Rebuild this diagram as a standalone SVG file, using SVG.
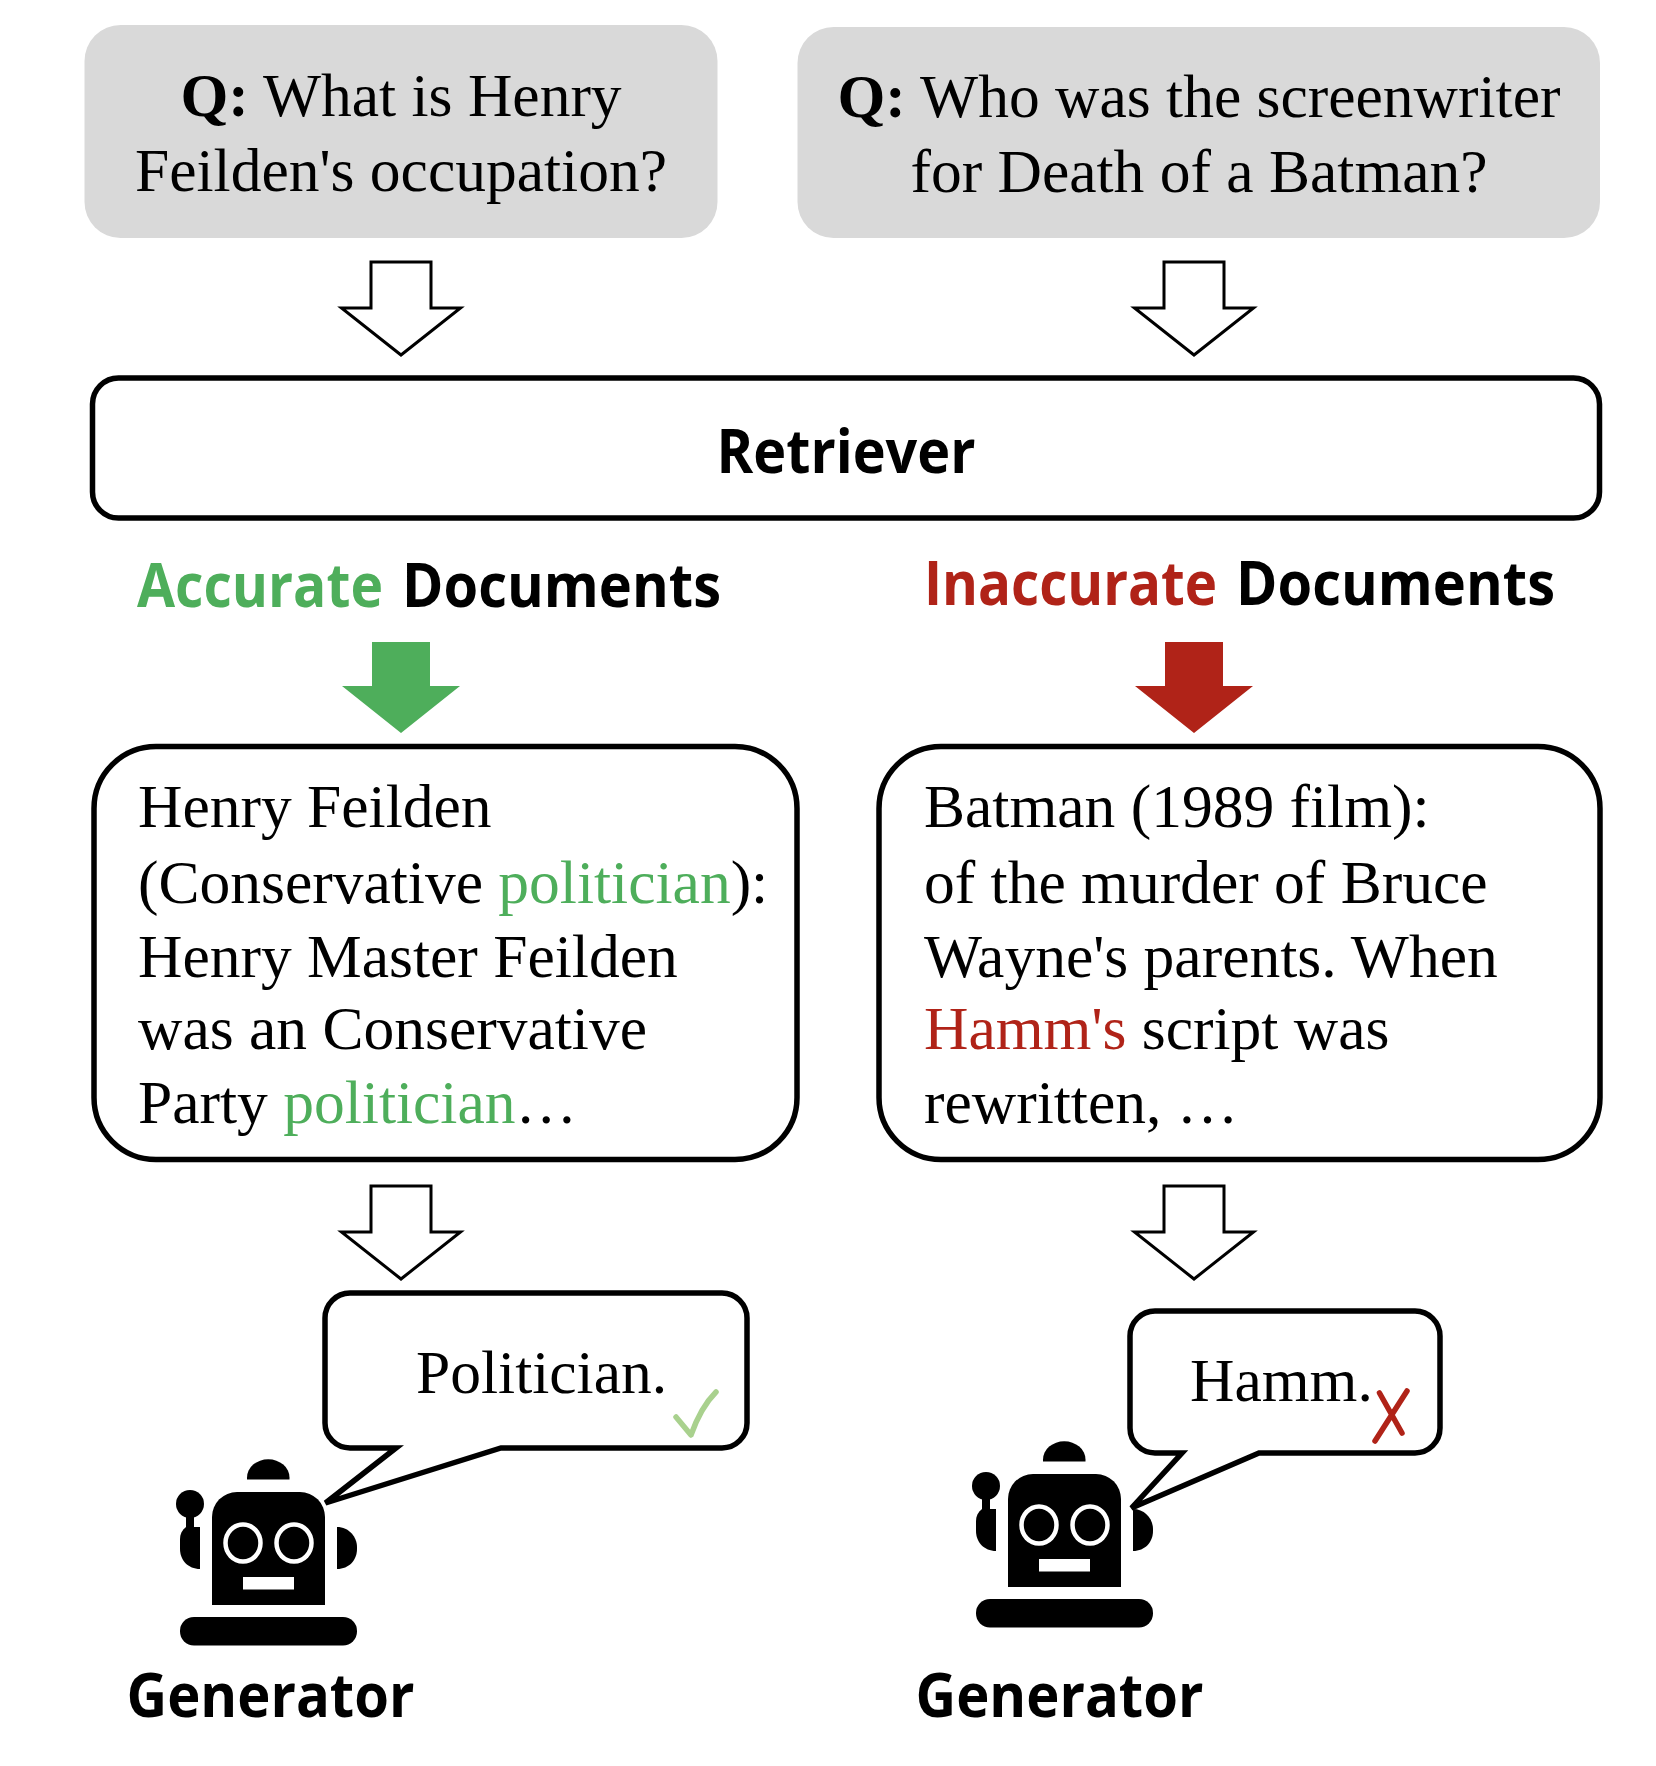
<svg xmlns="http://www.w3.org/2000/svg" xmlns:xlink="http://www.w3.org/1999/xlink" width="1656" height="1766" viewBox="0 0 1656 1766">
<style>
.q{fill:#d9d9d9}
.box{fill:#fff;stroke:#000;stroke-width:5.500}
.s{font-family:"Liberation Serif","Times New Roman",serif;font-size:61.500px;fill:#000}
.b{font-family:"Open Sans","Noto Sans",sans-serif;font-weight:700;fill:#000}
.h{font-size:60px}
.g{fill:#4eae5b}
.r{fill:#b02318}
.qt{text-anchor:middle}
.ho{fill:#fff;stroke:#000;stroke-width:3;stroke-linejoin:miter}
</style>
<defs>
<polygon id="hollow" points="-30,0 30,0 30,46 59.500,46 0,93 -59.500,46 -30,46"/>
<polygon id="solid" points="-29,0 29,0 29,44 59,44 0,91 -59,44 -29,44"/>
<g id="robot">
<path d="M212 1517a25 25 0 0 1 25-25h63a25 25 0 0 1 25 25v88H212z" fill="#000"/>
<ellipse cx="243" cy="1543" rx="17.500" ry="18.500" fill="none" stroke="#fff" stroke-width="4.500"/>
<ellipse cx="294" cy="1543" rx="17.500" ry="18.500" fill="none" stroke="#fff" stroke-width="4.500"/>
<rect x="243" y="1577" width="51" height="12.500" fill="#fff"/>
<path d="M247 1479.500v-2a21 18 0 0 1 42.500 0v2z" fill="#000"/>
<path d="M200 1527v42c-12 0-20-9-20-20v-10c0-5 2-9 6-12z" fill="#000"/>
<rect x="186" y="1510" width="8" height="22" fill="#000"/>
<rect x="190" y="1527" width="10" height="8" fill="#000"/>
<ellipse cx="190" cy="1504" rx="14" ry="14" fill="#000"/>
<path d="M337 1527c12 0 20 10 20 20v2c0 11-8 20-20 20z" fill="#000"/>
<rect x="180" y="1617" width="177" height="28.500" rx="14" fill="#000"/>
</g>
</defs>
<rect width="1656" height="1766" fill="#fff"/>
<g id="connectors">
<use xlink:href="#hollow" href="#hollow" class="ho" transform="translate(401,262)"/>
<use xlink:href="#hollow" href="#hollow" class="ho" transform="translate(1194,262)"/>
<use xlink:href="#solid" href="#solid" class="g" transform="translate(401,642)"/>
<use xlink:href="#solid" href="#solid" class="r" transform="translate(1194,642)"/>
<use xlink:href="#hollow" href="#hollow" class="ho" transform="translate(401,1186)"/>
<use xlink:href="#hollow" href="#hollow" class="ho" transform="translate(1194,1186)"/>
</g>
<g id="question-left">
<rect class="q" x="84.500" y="25" width="633" height="213" rx="36"/>
<text class="s qt" x="401" y="116"><tspan font-weight="700">Q:</tspan> What is Henry</text>
<text class="s qt" x="401" y="191">Feilden's occupation?</text>
</g>
<g id="question-right">
<rect class="q" x="797.500" y="27" width="802.500" height="211" rx="36"/>
<text class="s qt" x="1199" y="117"><tspan font-weight="700">Q:</tspan> Who was the screenwriter</text>
<text class="s qt" x="1199" y="192">for Death of a Batman?</text>
</g>
<g id="retriever">
<rect class="box" x="92.500" y="378" width="1507" height="140" rx="26"/>
<text class="b" x="846" y="473" text-anchor="middle" font-size="60" textLength="259" lengthAdjust="spacingAndGlyphs">Retriever</text>
</g>
<g id="label-accurate">
<text class="b h g" x="137" y="607" textLength="246" lengthAdjust="spacingAndGlyphs">Accurate</text>
<text class="b h" x="402" y="607" textLength="319" lengthAdjust="spacingAndGlyphs">Documents</text>
</g>
<g id="label-inaccurate">
<text class="b h r" x="924" y="605" textLength="293" lengthAdjust="spacingAndGlyphs">Inaccurate</text>
<text class="b h" x="1236" y="605" textLength="319" lengthAdjust="spacingAndGlyphs">Documents</text>
</g>
<g id="doc-accurate">
<rect class="box" x="94" y="746.500" width="703" height="413" rx="62"/>
<text class="s" x="138" y="827">Henry Feilden</text>
<text class="s" x="138" y="903">(Conservative <tspan class="g">politician</tspan>):</text>
<text class="s" x="138" y="977">Henry Master Feilden</text>
<text class="s" x="138" y="1049">was an Conservative</text>
<text class="s" x="138" y="1123">Party <tspan class="g">politician</tspan>…</text>
</g>
<g id="doc-inaccurate">
<rect class="box" x="879" y="746.500" width="721" height="413" rx="62"/>
<text class="s" x="924" y="827">Batman (1989 film):</text>
<text class="s" x="924" y="903">of the murder of Bruce</text>
<text class="s" x="924" y="977">Wayne's parents. When</text>
<text class="s" x="924" y="1049"><tspan class="r">Hamm's</tspan> script was</text>
<text class="s" x="924" y="1123">rewritten, …</text>
</g>
<g id="generator-left">
<use xlink:href="#robot" href="#robot"/>
<path class="box" d="M350 1293H722a25 25 0 0 1 25 25V1423a25 25 0 0 1-25 25H501L325.500 1503 396 1448H350a25 25 0 0 1-25-25V1318a25 25 0 0 1 25-25z"/>
<text class="s" x="416" y="1393">Politician.</text>
<path d="M676 1417L691 1435C697 1418 705 1403 716 1392" fill="none" stroke="#a9d18e" stroke-width="5.500" stroke-linecap="round" stroke-linejoin="round"/>
<text class="b" x="126.500" y="1717" font-size="60" textLength="288" lengthAdjust="spacingAndGlyphs">Generator</text>
</g>
<g id="generator-right">
<use xlink:href="#robot" href="#robot" transform="translate(796,-18)"/>
<path class="box" d="M1155 1311H1415a25 25 0 0 1 25 25V1428a25 25 0 0 1-25 25H1259L1131.500 1508 1182 1453H1155a25 25 0 0 1-25-25V1336a25 25 0 0 1 25-25z"/>
<text class="s" x="1190" y="1401">Hamm.</text>
<path d="M1379.500 1393L1402 1433M1407 1391L1375 1441" fill="none" stroke="#b02318" stroke-width="5.500" stroke-linecap="round"/>
<text class="b" x="915.500" y="1717" font-size="60" textLength="288" lengthAdjust="spacingAndGlyphs">Generator</text>
</g>
</svg>
